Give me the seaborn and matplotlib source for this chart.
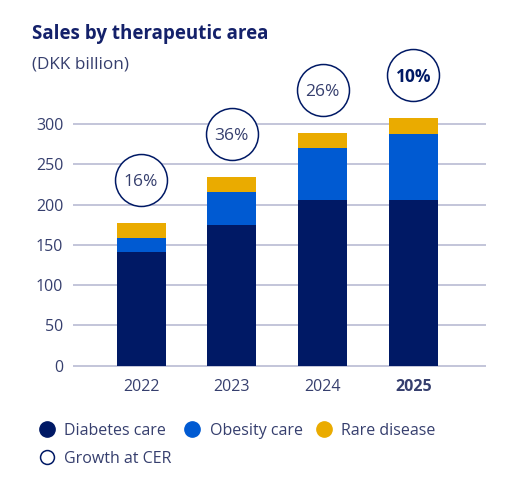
import matplotlib
matplotlib.use("Agg")
import matplotlib.pyplot as plt
from matplotlib.lines import Line2D
import pandas as pd
import seaborn as sns

# values (DKK billion)
years = ["2022", "2023", "2024", "2025"]
diabetes_care = [141, 175, 206, 206]
obesity_care = [17, 41, 64, 82]
rare_disease = [19, 18, 19, 20]
growth_cer = ["16%", "36%", "26%", "10%"]

NAVY = "#001965"
BLUE = "#005ad2"
GOLD = "#eaab00"
TEXT = "#363f6e"
GRID = "#b3b5cf"

sns.set_style("white")
plt.rcParams["font.family"] = ["Open Sans", "DejaVu Sans"]

df = pd.DataFrame({"year": years, "diabetes": diabetes_care,
                   "obesity": obesity_care, "rare": rare_disease})
df["d_o"] = df["diabetes"] + df["obesity"]
df["total"] = df["d_o"] + df["rare"]

W, H = 517, 483
fig = plt.figure(figsize=(W / 100, H / 100), dpi=100)
ppu = (365.7 - 124) / 300
ax = fig.add_axes([73 / W, (H - 365.7 - ppu) / H, 413 / W, 321 * ppu / H])

# stacked bars: draw cumulative totals on top of each other
for col, color in [("total", GOLD), ("d_o", BLUE), ("diabetes", NAVY)]:
    sns.barplot(data=df, x="year", y=col, color=color, width=0.54,
                saturation=1, linewidth=0, errorbar=None, ax=ax, zorder=3)

ax.set_xlim(-0.75, 3.8)
ax.set_ylim(-1, 320)
ax.set_yticks(range(0, 301, 50))
ax.yaxis.grid(True, color=GRID, lw=1.1)
ax.xaxis.grid(False)
ax.set_axisbelow(True)
for s in ax.spines.values():
    s.set_visible(False)
ax.set_xlabel("")
ax.set_ylabel("")
ax.tick_params(axis="y", length=0, pad=7, labelsize=11.5, labelcolor=TEXT)
ax.tick_params(axis="x", length=0, pad=9, labelsize=11.5, labelcolor=TEXT)
ax.get_xticklabels()[-1].set_fontweight("bold")

# growth circles
for i, (tot, g) in enumerate(zip(df["total"], growth_cer)):
    yy = tot + 53
    ax.scatter(i, yy, s=1400, facecolor="white", edgecolor=NAVY,
               linewidth=1.1, clip_on=False, zorder=4)
    ax.text(i, yy, g, ha="center", va="center_baseline", fontsize=12.5,
            color=NAVY if i == 3 else TEXT,
            fontweight="bold" if i == 3 else "normal", zorder=5)

fig.text(32 / W, 1 - 39 / H, "Sales by therapeutic area", fontsize=13.5,
         fontweight="bold", color="#14216a", va="baseline")
fig.text(32 / W, 1 - 69 / H, "(DKK billion)", fontsize=12.3,
         color=TEXT, va="baseline")

handles = [
    Line2D([], [], marker="o", ls="", ms=11, mfc=NAVY, mec=NAVY),
    Line2D([], [], marker="o", ls="", ms=10, mfc="white", mec=NAVY, mew=1.1),
    Line2D([], [], marker="o", ls="", ms=11, mfc=BLUE, mec=BLUE),
    Line2D([], [], marker="o", ls="", ms=11, mfc=GOLD, mec=GOLD),
]
labels = ["Diabetes care", "Growth at CER", "Obesity care", "Rare disease"]
fig.legend(handles, labels, ncol=3, loc="upper left",
           bbox_to_anchor=(38.7 / W, 1 - 423 / H), frameon=False,
           fontsize=11.5, handlelength=1.0, handletextpad=0.6,
           columnspacing=0.8, labelspacing=0.75, borderpad=0,
           borderaxespad=0, labelcolor=TEXT)

fig.savefig("out.png", dpi=100)
